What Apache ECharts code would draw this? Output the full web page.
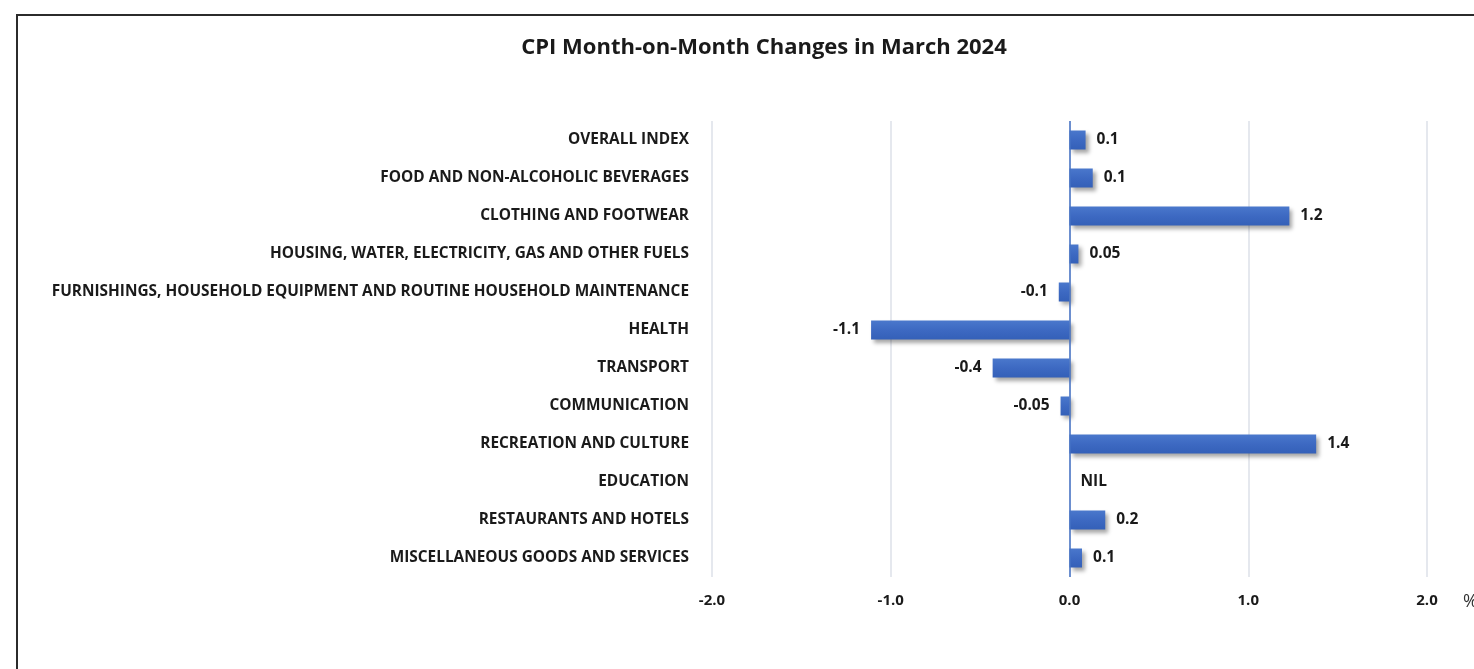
<!DOCTYPE html>
<html>
<head>
<meta charset="utf-8">
<style>
html, body {margin: 0; padding: 0; background: #fff;}
#main {width: 1474px; height: 669px;}
</style>
<script src="https://cdn.jsdelivr.net/npm/echarts@6/dist/echarts.min.js"></script>
</head>
<body>
<div id="main"></div>
<script>
// data (bar lengths), labels as printed
var categories = [
  'OVERALL INDEX',
  'FOOD AND NON-ALCOHOLIC BEVERAGES',
  'CLOTHING AND FOOTWEAR',
  'HOUSING, WATER, ELECTRICITY, GAS AND OTHER FUELS',
  'FURNISHINGS, HOUSEHOLD EQUIPMENT AND ROUTINE HOUSEHOLD MAINTENANCE',
  'HEALTH',
  'TRANSPORT',
  'COMMUNICATION',
  'RECREATION AND CULTURE',
  'EDUCATION',
  'RESTAURANTS AND HOTELS',
  'MISCELLANEOUS GOODS AND SERVICES'
];
var values = [0.09, 0.13, 1.23, 0.05, -0.06, -1.11, -0.43, -0.05, 1.38, 0, 0.2, 0.07];
var valueLabels = ['0.1', '0.1', '1.2', '0.05', '-0.1', '-1.1', '-0.4', '-0.05', '1.4', 'NIL', '0.2', '0.1'];
var axisTicks = [-2, -1, 0, 1, 2];

var font = 'Open Sans';
var chart = echarts.init(document.getElementById('main'));

var barData = values.map(function (v, i) {
  return {
    value: v,
    label: {position: v < 0 ? 'left' : 'right', formatter: valueLabels[i]}
  };
});

var option = {
  animation: false,
  textStyle: {fontFamily: font},
  graphic: [{
    type: 'rect',
    shape: {x: 17, y: 15, width: 1600, height: 800},
    style: {fill: 'none', stroke: '#2b2b2b', lineWidth: 2},
    silent: true
  }],
  title: {
    text: 'CPI Month-on-Month Changes in March 2024',
    left: 759, top: 32, textAlign: 'center',
    textStyle: {fontFamily: font, fontSize: 22, fontWeight: 'bold', color: '#1a1a1a'}
  },
  grid: {left: 712, right: 47, top: 121, bottom: 92, containLabel: false, outerBoundsMode: 'none'},
  xAxis: {
    type: 'value',
    min: axisTicks[0], max: axisTicks[axisTicks.length - 1], interval: 1,
    name: '%',
    nameLocation: 'end',
    nameGap: 36,
    nameTextStyle: {fontFamily: font, fontSize: 18, color: '#333', verticalAlign: 'top', padding: [16, 0, 0, 0]},
    axisLine: {show: false},
    axisTick: {show: false},
    axisLabel: {
      margin: 16, fontSize: 15, fontWeight: 'bold', color: '#1a1a1a',
      formatter: function (v) { return v.toFixed(1); }
    },
    splitLine: {lineStyle: {color: '#dde1e8', width: 1.5}}
  },
  yAxis: {
    type: 'category',
    data: categories,
    inverse: true,
    axisLine: {show: false},
    axisTick: {show: false},
    axisLabel: {margin: 23, fontSize: 15.4, fontWeight: 'bold', color: '#1a1a1a'}
  },
  series: [{
    type: 'bar',
    data: barData,
    barWidth: '50%',
    itemStyle: {
      color: new echarts.graphic.LinearGradient(0, 0, 0, 1, [
        {offset: 0, color: '#4a78cc'},
        {offset: 0.5, color: '#3d69c2'},
        {offset: 1, color: '#3460b8'}
      ]),
      shadowColor: 'rgba(0,0,0,0.35)',
      shadowBlur: 4,
      shadowOffsetX: 3,
      shadowOffsetY: 3
    },
    label: {
      show: true, distance: 11,
      fontSize: 15.5, fontWeight: 'bold', color: '#1a1a1a'
    },
    markLine: {
      silent: true,
      symbol: 'none',
      label: {show: false},
      lineStyle: {color: '#4472c4', width: 1.5, type: 'solid'},
      data: [{xAxis: 0}]
    }
  }]
};
chart.setOption(option);
</script>
</body>
</html>
